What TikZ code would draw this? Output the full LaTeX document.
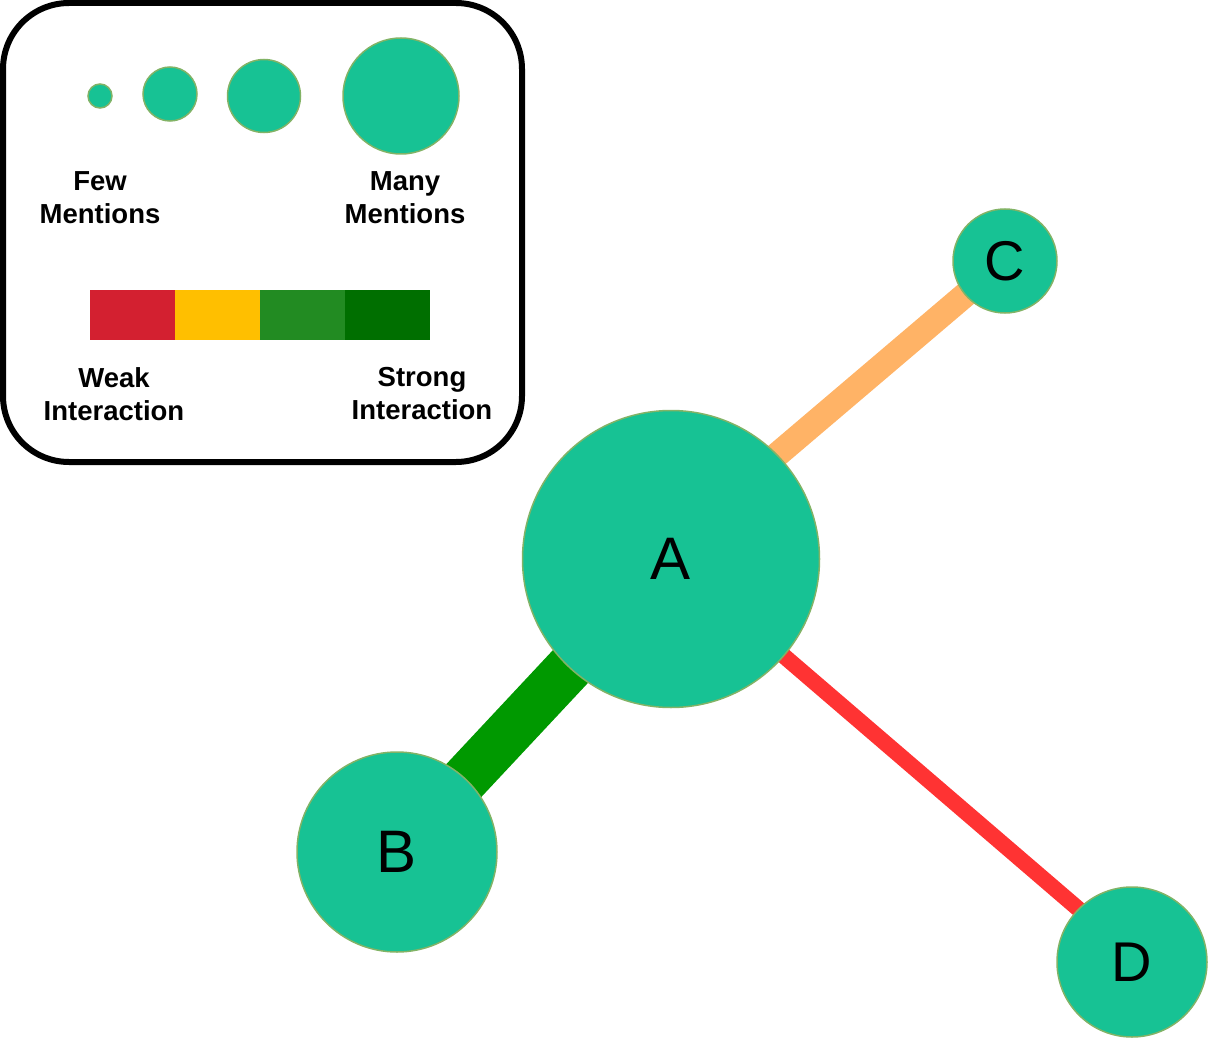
\documentclass[tikz,border=0pt]{standalone}
\usepackage{fontspec}
\setmainfont{Liberation Sans}
\definecolor{nodefill}{HTML}{17C294}
\definecolor{nodeline}{HTML}{82B366}
\definecolor{edgegreen}{HTML}{009900}
\definecolor{edgeorange}{HTML}{FFB366}
\definecolor{edgered}{HTML}{FF3333}
\definecolor{barred}{HTML}{D32030}
\definecolor{baryellow}{HTML}{FFBF00}
\definecolor{bargreen}{HTML}{228B22}
\definecolor{bardark}{HTML}{006F00}
\begin{document}
\begin{tikzpicture}[x=1pt,y=-1pt,
  bubble/.style={circle,fill=nodefill,draw=nodeline,line width=1.5pt,inner sep=0pt,minimum size=#1},
  biglabel/.style={font=\fontsize{60}{60}\selectfont},
  midlabel/.style={font=\fontsize{56}{56}\selectfont},
  legtext/.style={align=center,font=\bfseries\fontsize{27.5}{33}\selectfont,inner sep=0pt},
  barseg/.style={minimum width=85pt,minimum height=50pt,inner sep=0pt,draw=none}]
\useasboundingbox (0,0) rectangle (1208,1038);
% legend box
\node[draw=black,line width=6pt,rounded corners=66pt,minimum width=519pt,minimum height=459pt,inner sep=0pt] (legend) at (262.5,232.5) {};
\node[bubble=24pt] (l1) at (100,96) {};
\node[bubble=54pt] (l2) at (170,94) {};
\node[bubble=73pt] (l3) at (264,96) {};
\node[bubble=116pt] (l4) at (401,96) {};
\node[legtext] (few) at (100,198) {Few\\Mentions};
\node[legtext] (many) at (405,198) {Many\\Mentions};
\node[barseg,fill=barred] (b1) at (132.5,315) {};
\node[barseg,fill=baryellow] (b2) at (217.5,315) {};
\node[barseg,fill=bargreen] (b3) at (302.5,315) {};
\node[barseg,fill=bardark] (b4) at (387.5,315) {};
\node[legtext] (weak) at (114,394) {Weak\\Interaction};
\node[legtext] (strong) at (422,394) {Strong\\Interaction};
% graph nodes (coordinates first, edges behind)
\coordinate (pA) at (671,559);
\coordinate (pAc) at (671,545);
\coordinate (pB) at (397,852);
\coordinate (pC) at (1005,261);
\coordinate (pD) at (1132,962);
\coordinate (pDa) at (1132,955);
\draw[edgegreen,line width=48pt] (pA) -- (pB);
\draw[edgeorange,line width=25pt] (pAc) -- (pC);
\draw[edgered,line width=16pt] (pA) -- (pDa);
\node[bubble=297pt,biglabel] (A) at (pA) {A};
\node[bubble=200pt,biglabel] (B) at (pB) {B};
\node[bubble=104pt,midlabel] (C) at (pC) {C};
\node[bubble=150pt,midlabel] (D) at (pD) {D};
\end{tikzpicture}
\end{document}
